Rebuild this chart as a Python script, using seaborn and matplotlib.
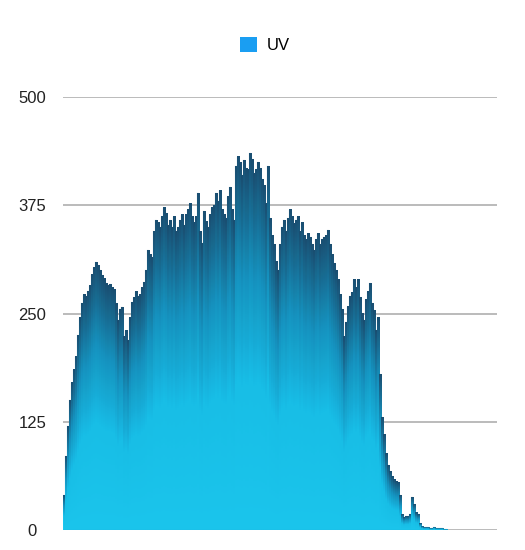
import numpy as np
import pandas as pd
import matplotlib
matplotlib.use("Agg")
import matplotlib.pyplot as plt
from matplotlib.colors import LinearSegmentedColormap
from matplotlib.patches import Patch
import seaborn as sns

# UV readings, one bar per sample
uv_values = [
    40, 85, 120, 150, 170, 185, 200, 225, 245, 262,
    272, 270, 276, 282, 295, 303, 309, 306, 300, 294,
    290, 285, 283, 284, 280, 278, 262, 242, 255, 257,
    223, 230, 219, 245, 263, 268, 275, 270, 272, 280,
    286, 300, 323, 318, 315, 345, 358, 355, 350, 362,
    372, 366, 352, 358, 350, 362, 345, 350, 358, 364,
    352, 364, 370, 377, 362, 355, 362, 389, 345, 331,
    368, 356, 350, 364, 372, 375, 389, 380, 392, 370,
    364, 360, 385, 396, 370, 358, 420, 431, 424, 410,
    427, 418, 416, 435, 428, 412, 416, 425, 418, 405,
    398, 377, 420, 360, 340, 330, 310, 300, 330, 350,
    358, 345, 360, 370, 362, 354, 358, 362, 345, 355,
    340, 335, 342, 338, 330, 323, 335, 342, 330, 336,
    338, 340, 346, 330, 318, 308, 300, 289, 272, 255,
    223, 240, 258, 270, 274, 289, 280, 289, 269, 250,
    242, 266, 275, 285, 262, 254, 231, 245, 180, 130,
    110, 88, 75, 68, 62, 58, 56, 55, 40, 18,
    15, 16, 16, 18, 38, 30, 20, 18, 8, 4,
    3, 3, 3, 2, 2, 3, 2, 2, 2, 2,
    1, 1,
]
sample_idx = list(range(len(uv_values)))
y_ticks = [0, 125, 250, 375, 500]
series_name = "UV"

df = pd.DataFrame({"sample": sample_idx, "uv": uv_values})

fig = plt.figure(figsize=(5.25, 5.5), dpi=100)
ax = fig.add_axes([0.12, 0.0364, 0.8267, 0.787])

sns.barplot(data=df, x="sample", y="uv", width=1.0, color="#1ccaf4",
            ax=ax, legend=False)

# per-bar vertical gradient: bright cyan at the base, dark teal at the top
cmap = LinearSegmentedColormap.from_list(
    "uvgrad", [(0.0, "#1dcdf6"), (0.4, "#1ac6f0"), (0.7, "#1797c4"), (1.0, "#1c5073")])
grad = np.linspace(0, 1, 128).reshape(-1, 1)
for p in ax.patches:
    x0, w, h = p.get_x(), p.get_width(), p.get_height()
    if h <= 0:
        continue
    ax.imshow(grad, extent=(x0, x0 + w, 0, h), origin="lower", cmap=cmap,
              aspect="auto", zorder=2, interpolation="bilinear")
    p.set_facecolor("none")
    p.set_edgecolor((0.05, 0.3, 0.42, 0.15))
    p.set_linewidth(0.3)
    p.set_zorder(3)

ax.set_xlim(-0.5, 216.5)
ax.set_ylim(0, 500)
ax.set_yticks(y_ticks)
ax.set_yticklabels([str(t) for t in y_ticks])
ax.set_xticks([])
ax.set_xlabel("")
ax.set_ylabel("")
ax.yaxis.grid(True, color="#b5b5b5", linewidth=1.3)
ax.set_axisbelow(True)
for s in ax.spines.values():
    s.set_visible(False)
ax.tick_params(axis="y", length=0, pad=22, labelsize=12, labelcolor="#222222")
for lbl in ax.get_yticklabels():
    lbl.set_horizontalalignment("center")
    lbl.set_fontfamily("Liberation Sans")

handles = [Patch(facecolor="#1a9ef2", edgecolor="none", label=series_name)]
fig.legend(handles=handles, loc="center", bbox_to_anchor=(0.505, 0.918),
           frameon=False, handlelength=1.0, handleheight=1.0, handletextpad=0.6,
           prop={"family": "Liberation Sans", "size": 12})

fig.savefig("out.png", dpi=100)
